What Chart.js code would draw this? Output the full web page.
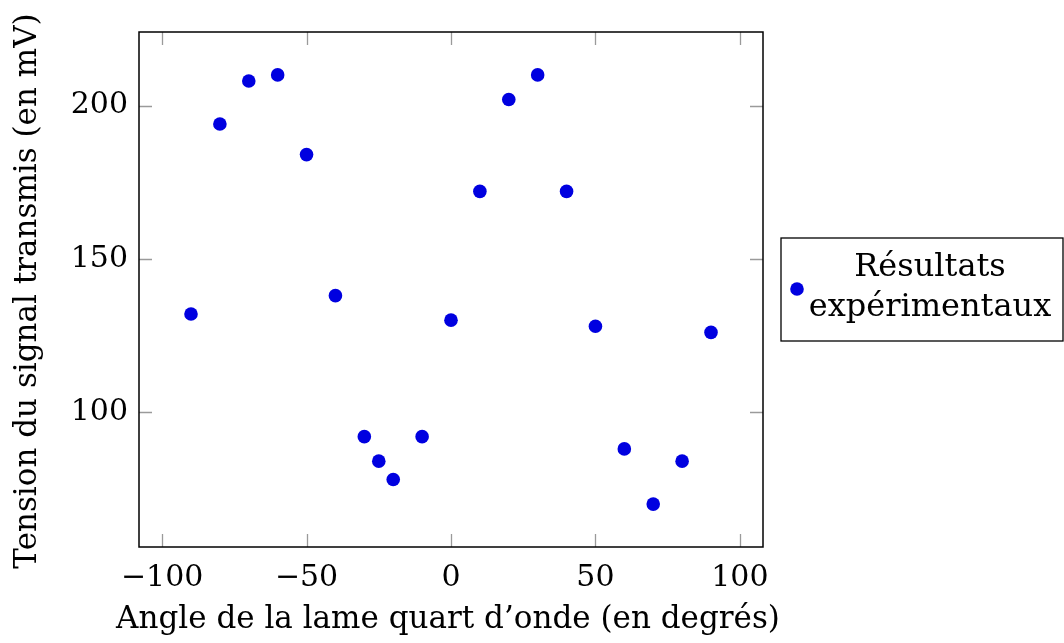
<!DOCTYPE html>
<html>
<head>
<meta charset="utf-8">
<script src="https://cdn.jsdelivr.net/npm/chart.js@4/dist/chart.umd.min.js"></script>
<style>
  html, body { margin: 0; padding: 0; background: #fff; }
  #wrap { width: 1064px; height: 643px; }
</style>
</head>
<body>
<div id="wrap"><canvas id="chart" width="1064" height="643"></canvas></div>
<script>
// Data
const angles = [-90, -80, -70, -60, -50, -40, -30, -25, -20, -10, 0, 10, 20, 30, 40, 50, 60, 70, 80, 90];
const voltages = [132, 194, 208, 210, 184, 138, 92, 84, 78, 92, 130, 172, 202, 210, 172, 128, 88, 70, 84, 126];
const xTicks = [-100, -50, 0, 50, 100];
const yTicks = [100, 150, 200];
const seriesLabel = ["Résultats", "expérimentaux"];
const xTitle = "Angle de la lame quart d\u2019onde (en degrés)";
const yTitle = "Tension du signal transmis (en mV)";

const FONT = "'DejaVu Serif', serif";
const TICK_SIZE = 30;
const TITLE_SIZE = 31;
const LEGEND_SIZE = 32;
const BLUE = "#0000e0";

// pairs for the scatter dataset
const points = [];
for (let i = 0; i < angles.length; i++) {
    points.push({ x: angles[i], y: voltages[i] });
}

function minusSign(v) {
    return String(v).replace("-", "\u2212");
}

// frame, inner ticks (pgfplots style), axis titles and the boxed legend
// (titles drawn here because Chart.js squeezes them to the scale length)
const framePlugin = {
    id: "frame",
    afterDatasetsDraw(chart) {
        const ctx = chart.ctx;
        const a = chart.chartArea;
        const xs = chart.scales.x;
        const ys = chart.scales.y;
        const tl = 13;
        ctx.save();
        // ticks
        ctx.strokeStyle = "#9a9a9a";
        ctx.lineWidth = 1.3;
        ctx.beginPath();
        xTicks.forEach(t => {
            const px = Math.round(xs.getPixelForValue(t)) + 0.5;
            ctx.moveTo(px, a.bottom); ctx.lineTo(px, a.bottom - tl);
            ctx.moveTo(px, a.top); ctx.lineTo(px, a.top + tl);
        });
        yTicks.forEach(t => {
            const py = Math.round(ys.getPixelForValue(t)) + 0.5;
            ctx.moveTo(a.left, py); ctx.lineTo(a.left + tl, py);
            ctx.moveTo(a.right, py); ctx.lineTo(a.right - tl, py);
        });
        ctx.stroke();
        // frame
        ctx.strokeStyle = "#000";
        ctx.lineWidth = 1.5;
        ctx.strokeRect(a.left, a.top, a.right - a.left, a.bottom - a.top);

        // axis titles
        ctx.fillStyle = "#000";
        ctx.font = TITLE_SIZE + "px " + FONT;
        ctx.textAlign = "center";
        ctx.textBaseline = "middle";
        ctx.fillText(xTitle, 448, 620);
        ctx.save();
        ctx.translate(28, 291);
        ctx.rotate(-Math.PI / 2);
        ctx.fillText(yTitle, 0, 0);
        ctx.restore();

        // legend
        const ds = chart.data.datasets[0];
        const bx = 781, by = 238, bw = 282, bh = 103;
        ctx.lineWidth = 1.3;
        ctx.strokeRect(bx, by, bw, bh);
        ctx.fillStyle = ds.backgroundColor;
        ctx.beginPath();
        ctx.arc(797, 289, ds.pointRadius, 0, Math.PI * 2);
        ctx.fill();
        ctx.fillStyle = "#000";
        ctx.font = LEGEND_SIZE + "px " + FONT;
        ctx.fillText(seriesLabel[0], 930, 268);
        ctx.fillText(seriesLabel[1], 930, 308);
        ctx.restore();
    }
};

const ctx = document.getElementById("chart").getContext("2d");
new Chart(ctx, {
    type: "scatter",
    data: {
        datasets: [{
            label: seriesLabel.join(" "),
            data: points,
            backgroundColor: BLUE,
            borderColor: BLUE,
            pointRadius: 6.8,
            pointBorderWidth: 0
        }]
    },
    options: {
        responsive: false,
        animation: false,
        layout: { padding: { left: 0, right: 301, top: 32, bottom: 0 } },
        plugins: {
            legend: { display: false },
            tooltip: { enabled: false }
        },
        scales: {
            x: {
                type: "linear",
                min: -108,
                max: 108,
                afterBuildTicks: s => { s.ticks = xTicks.map(v => ({ value: v })); },
                afterFit: s => { s.height = 96; },
                grid: { display: false, drawTicks: false },
                border: { display: false },
                ticks: {
                    color: "#000",
                    padding: 13,
                    maxRotation: 0,
                    font: { family: FONT, size: TICK_SIZE },
                    callback: v => minusSign(v)
                },
                title: { display: false }
            },
            y: {
                type: "linear",
                min: 56,
                max: 224,
                afterBuildTicks: s => { s.ticks = yTicks.map(v => ({ value: v })); },
                afterFit: s => { s.width = 139; },
                grid: { display: false, drawTicks: false },
                border: { display: false },
                ticks: {
                    color: "#000",
                    padding: 11,
                    font: { family: FONT, size: TICK_SIZE },
                    callback: v => minusSign(v)
                },
                title: { display: false }
            }
        }
    },
    plugins: [framePlugin]
});
</script>
</body>
</html>
